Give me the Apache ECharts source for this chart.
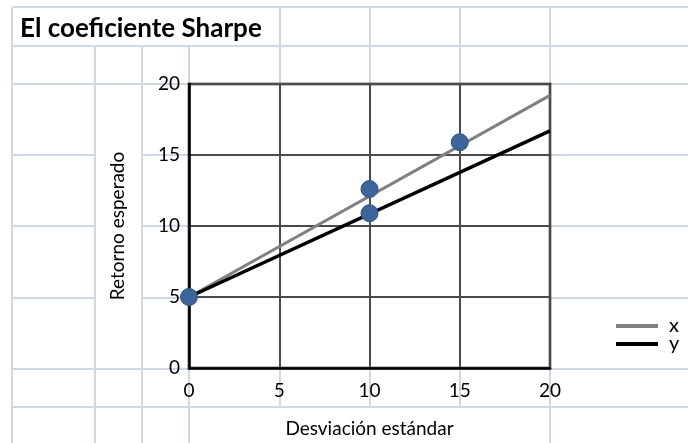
<!DOCTYPE html>
<html>
<head>
<meta charset="utf-8">
<script src="https://cdn.jsdelivr.net/npm/echarts@6/dist/echarts.min.js"></script>
<style>
  html, body { margin: 0; padding: 0; background: #ffffff; }
  #chart { width: 688px; height: 443px; }
</style>
</head>
<body>
<div id="chart"></div>
<script>
// Chart text
const titleText = 'El coeficiente Sharpe';
const xAxisName = 'Desviación estándar';
const yAxisName = 'Retorno esperado';

// Axis ranges and ticks
const xTicks = [0, 5, 10, 15, 20];
const yTicks = [0, 5, 10, 15, 20];

// Capital allocation lines (start and end points)
const lineXData = [[0, 5], [20, 19.2]];
const lineYData = [[0, 5], [20, 16.7]];

// Portfolios: [standard deviation, expected return]
const portfolios = [[0, 5], [10, 12.6], [10, 10.9], [15, 15.9]];

const FONT = 'Lato, "Noto Sans", sans-serif';
const SHEET_LINE = '#d0d7e5';

// Worksheet cell borders behind the chart
function sheetGrid() {
  const els = [];
  const W = 688, H = 443;
  const hLine = (y, x1, x2) => els.push({
    type: 'line', silent: true, z: -10,
    shape: { x1: x1, y1: y, x2: x2, y2: y },
    style: { stroke: SHEET_LINE, lineWidth: 2 }
  });
  const vLine = (x, y1, y2) => els.push({
    type: 'line', silent: true, z: -10,
    shape: { x1: x, y1: y1, x2: x, y2: y2 },
    style: { stroke: SHEET_LINE, lineWidth: 2 }
  });
  [7, 46, 84, 155, 226, 298, 369, 407].forEach(y => hLine(y, 12, W));
  [12, 280, 370, 460, 550].forEach(x => vLine(x, 7, H));
  [95, 142, 189].forEach(x => vLine(x, 46, H));
  // merged cells holding the axis titles
  els.push({ type: 'rect', silent: true, z: -9,
    shape: { x: 96, y: 85, width: 45, height: 283 }, style: { fill: '#ffffff' } });
  els.push({ type: 'rect', silent: true, z: -9,
    shape: { x: 190, y: 408, width: 359, height: 40 }, style: { fill: '#ffffff' } });
  return els;
}

const chart = echarts.init(document.getElementById('chart'), null, { renderer: 'canvas' });

chart.setOption({
  animation: false,
  backgroundColor: 'transparent',
  graphic: { elements: sheetGrid() },
  title: {
    text: titleText,
    left: 15,
    top: 11,
    textStyle: { fontFamily: FONT, fontSize: 26, fontWeight: 'bold', color: '#000' }
  },
  legend: {
    orient: 'vertical',
    left: 611,
    top: 311,
    icon: 'rect',
    itemWidth: 42,
    itemHeight: 4,
    itemGap: -2,
    data: ['x', 'y'],
    textStyle: { fontFamily: FONT, fontSize: 20, color: '#000', lineHeight: 16, padding: [0, 0, 0, 6] }
  },
  grid: {
    left: 189, right: 138, top: 84, bottom: 74,
    show: true,
    backgroundColor: '#ffffff',
    borderColor: '#000',
    borderWidth: 2.5
  },
  xAxis: {
    type: 'value',
    min: xTicks[0],
    max: xTicks[xTicks.length - 1],
    interval: xTicks[1] - xTicks[0],
    name: xAxisName,
    nameLocation: 'middle',
    nameGap: 51,
    nameTextStyle: { fontFamily: FONT, fontSize: 19, color: '#000' },
    axisLine: { show: true, lineStyle: { color: '#000', width: 2.5 } },
    axisTick: { show: false },
    axisLabel: { fontFamily: FONT, fontSize: 19, color: '#000', margin: 13 },
    splitLine: { show: true, lineStyle: { color: '#4a4a4a', width: 2 } }
  },
  yAxis: {
    type: 'value',
    min: yTicks[0],
    max: yTicks[yTicks.length - 1],
    interval: yTicks[1] - yTicks[0],
    name: yAxisName,
    nameLocation: 'middle',
    nameRotate: 90,
    nameGap: 62,
    nameTextStyle: { fontFamily: FONT, fontSize: 19, color: '#000' },
    axisLine: { show: true, lineStyle: { color: '#000', width: 2.5 } },
    axisTick: { show: false },
    axisLabel: { fontFamily: FONT, fontSize: 19, color: '#000', margin: 9 },
    splitLine: { show: true, lineStyle: { color: '#4a4a4a', width: 2 } }
  },
  series: [
    {
      name: 'x',
      type: 'line',
      data: lineXData,
      symbol: 'none',
      color: '#808080',
      lineStyle: { color: '#808080', width: 3 },
      z: 3
    },
    {
      name: 'y',
      type: 'line',
      data: lineYData,
      symbol: 'none',
      color: '#000000',
      lineStyle: { color: '#000000', width: 3.5 },
      z: 3
    },
    {
      name: 'portfolios',
      type: 'scatter',
      data: portfolios,
      symbol: 'circle',
      symbolSize: 17,
      itemStyle: { color: '#3b659b', borderColor: '#2f5687', borderWidth: 1, opacity: 1 },
      z: 5
    }
  ]
});
</script>
</body>
</html>
